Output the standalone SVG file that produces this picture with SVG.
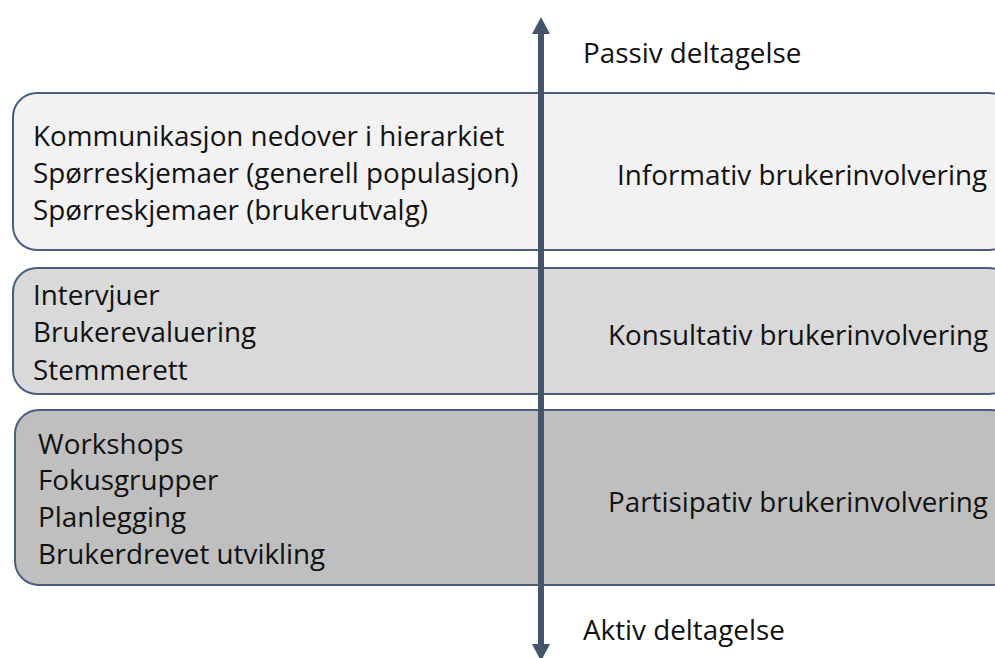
<svg xmlns="http://www.w3.org/2000/svg" width="995" height="658" viewBox="0 0 995 658">
<defs>
<style>
.box{stroke:#4A5F7E;stroke-width:2}
text{font-family:"Open Sans","Noto Sans",sans-serif;font-size:27.8px;fill:#111}
</style>
</defs>
<rect width="995" height="658" fill="#fff"/>
<g id="informativ">
<rect class="box" x="13" y="93" width="1000" height="157" rx="24" fill="#F2F2F2"/>
<text x="33" y="146">Kommunikasjon nedover i hierarkiet</text>
<text x="33" y="183">Spørreskjemaer (generell populasjon)</text>
<text x="33" y="220">Spørreskjemaer (brukerutvalg)</text>
<text x="617" y="185">Informativ brukerinvolvering</text>
</g>
<g id="konsultativ">
<rect class="box" x="13" y="268" width="1000" height="126" rx="24" fill="#D9D9D9"/>
<text x="33" y="305">Intervjuer</text>
<text x="33" y="342">Brukerevaluering</text>
<text x="33" y="380">Stemmerett</text>
<text x="608" y="345">Konsultativ brukerinvolvering</text>
</g>
<g id="partisipativ">
<rect class="box" x="15" y="410" width="1000" height="175" rx="24" fill="#BFBFBF"/>
<text x="38" y="454">Workshops</text>
<text x="38" y="490">Fokusgrupper</text>
<text x="38" y="527">Planlegging</text>
<text x="38" y="564">Brukerdrevet utvikling</text>
<text x="608" y="512">Partisipativ brukerinvolvering</text>
</g>
<g id="connectors">
<line x1="541" y1="34" x2="541" y2="644" stroke="#44546A" stroke-width="6"/>
<path d="M541,17 L550,34 L532,34 Z" fill="#44546A"/>
<path d="M541,661 L550,644 L532,644 Z" fill="#44546A"/>
</g>
<g id="labels">
<text x="583" y="63">Passiv deltagelse</text>
<text x="583" y="640">Aktiv deltagelse</text>
</g>
</svg>
